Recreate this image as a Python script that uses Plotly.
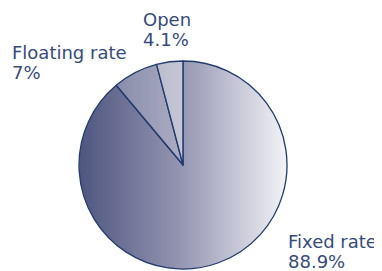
import numpy as np
import plotly.graph_objects as go

labels = ["Fixed rate", "Floating rate", "Open"]
values = [88.9, 7.0, 4.1]
value_text = ["88.9%", "7%", "4.1%"]

# page body has an 8px margin: draw in a slightly smaller figure, shifted
OFF = 8
W, H = 382 - OFF, 271 - OFF
cx, cy, r = 183 - OFF, 165 - OFF, 104
dom_x = [(cx - r) / W, (cx + r) / W]
dom_y = [(H - (cy + r)) / H, (H - (cy - r)) / H]

TEXT = "#364a7b"
EDGE = "#223b6e"
FONT = dict(family="DejaVu Sans", size=18, color=TEXT)

fig = go.Figure()

# gradient backdrop disk (decoration under the transparent pie)
t = np.linspace(0, 2 * np.pi, 361)
fig.add_trace(go.Scatter(
    x=np.cos(t), y=np.sin(t), mode="lines", fill="toself",
    line=dict(width=0),
    fillgradient=dict(type="horizontal",
                      colorscale=[[0, "rgb(78,86,127)"], [0.5, "rgb(150,151,179)"],
                                  [1, "rgb(243,243,247)"]]),
    hoverinfo="skip", showlegend=False,
))

fig.add_trace(go.Pie(
    labels=labels, values=values, sort=False, direction="clockwise", rotation=0,
    textinfo="none", hoverinfo="label+percent",
    marker=dict(colors=["rgba(0,0,0,0)", "rgba(255,255,255,0.22)", "rgba(255,255,255,0.45)"],
                line=dict(color=EDGE, width=1.3)),
    domain=dict(x=dom_x, y=dom_y), showlegend=False,
))

# screen position of the text's left edge and cap top of first line
label_pos = {
    "Open": (143, 12),
    "Floating rate": (12, 45),
    "Fixed rate": (288, 234),
}
LINE = 20
for lab, vt in zip(labels, value_text):
    sx, sy = label_pos[lab]
    for i, txt in enumerate([lab, vt]):
        px = sx - OFF - 1
        py = sy + i * LINE - OFF - 4
        fig.add_annotation(
            x=px / W, y=(H - py) / H, xref="paper", yref="paper",
            xanchor="left", yanchor="top", align="left", showarrow=False,
            borderpad=0, text=txt, font=FONT,
        )

fig.update_layout(
    width=W, height=H, margin=dict(l=0, r=0, t=0, b=0),
    paper_bgcolor="white", plot_bgcolor="rgba(0,0,0,0)",
    xaxis=dict(domain=dom_x, range=[-1, 1], visible=False, fixedrange=True),
    yaxis=dict(domain=dom_y, range=[-1, 1], visible=False, fixedrange=True),
)

fig.write_html("out.html")
